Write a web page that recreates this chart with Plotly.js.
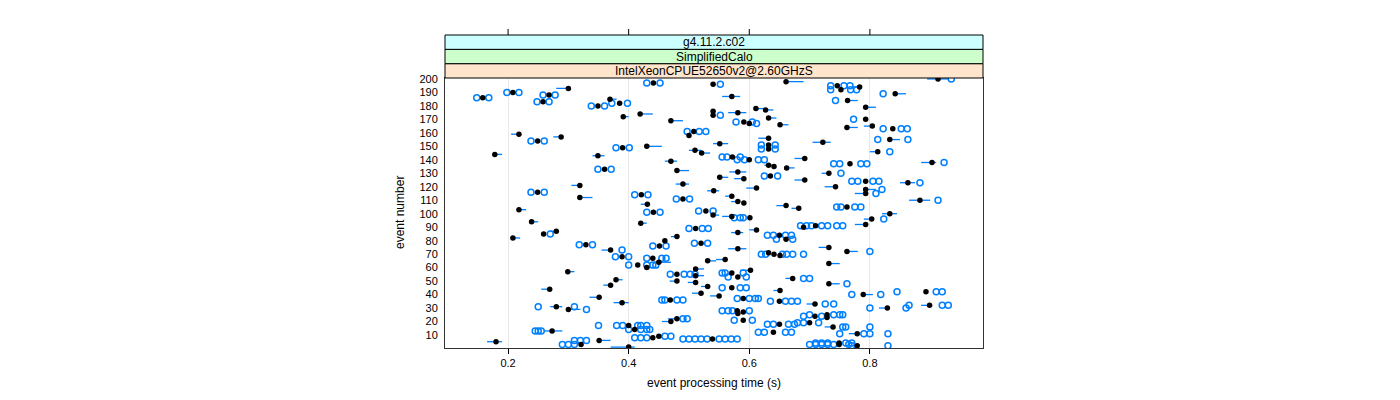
<!DOCTYPE html>
<html>
<head>
<meta charset="utf-8">
<script src="https://cdn.plot.ly/plotly-3.0.1.min.js"></script>
<style>html,body{margin:0;padding:0;background:#fff;}#chart{width:1400px;height:400px;}</style>
</head>
<body>
<div id="chart"></div>
<script>
// ---- data ----
const stripLabels = ["IntelXeonCPUE52650v2@2.60GHzS", "SimplifiedCalo", "g4.11.2.c02"];
const xTicks = [0.2, 0.4, 0.6, 0.8];
const yTicks = [10,20,30,40,50,60,70,80,90,100,110,120,130,140,150,160,170,180,190,200];

const events = [200,198,197,196,195,194,193,192,190,189,188,187,186,185,184,183,182,180,179,178,
177,176,175,174,173,172,171,170,169,168,167,166,165,164,163,161,159,158,157,156,
155,154,153,152,151,150,149,148,147,146,145,144,143,142,141,140,139,138,137,136,
135,134,133,132,131,130,128,127,126,125,124,123,122,121,120,119,118,117,116,115,
114,113,112,111,110,109,108,107,106,105,104,103,102,101,100,99,98,97,96,94,
93,92,91,90,89,88,87,86,85,84,83,82,81,80,78,77,76,75,74,73,
72,71,70,69,68,67,66,65,64,63,62,60,59,58,57,56,55,54,53,52,
51,50,49,48,47,46,45,44,43,42,41,40,39,38,37,36,35,34,33,32,
31,30,29,28,27,26,25,24,23,22,21,20,19,18,17,16,14,13,12,11,
9,8,7,6,5,4,3,3,2,1];

const median = [0.913,0.661,0.441,0.540,0.746,0.783,0.300,0.752,0.208,0.842,0.268,0.571,0.158,0.369,0.763,0.258,0.385,0.349,0.793,0.611,
0.627,0.540,0.581,0.419,0.540,0.391,0.632,0.793,0.470,0.591,0.600,0.651,0.804,0.762,0.838,0.508,0.218,0.500,0.288,0.632,
0.833,0.249,0.722,0.551,0.632,0.430,0.390,0.632,0.510,0.813,0.521,0.178,0.349,0.572,0.692,0.600,0.470,0.903,0.767,0.632,
0.641,0.662,0.360,0.480,0.581,0.732,0.635,0.551,0.591,0.692,0.793,0.863,0.490,0.319,0.743,0.612,0.793,0.541,0.249,0.793,
0.421,0.571,0.319,0.490,0.883,0.581,0.591,0.431,0.661,0.762,0.682,0.218,0.528,0.441,0.833,0.540,0.571,0.601,0.803,0.239,
0.420,0.793,0.710,0.690,0.511,0.612,0.280,0.581,0.259,0.650,0.480,0.208,0.661,0.460,0.520,0.329,0.451,0.732,0.581,0.370,
0.762,0.632,0.641,0.651,0.389,0.440,0.560,0.531,0.450,0.732,0.415,0.430,0.511,0.602,0.299,0.571,0.480,0.511,0.581,0.672,
0.379,0.480,0.511,0.732,0.370,0.531,0.571,0.269,0.651,0.893,0.520,0.789,0.550,0.351,0.590,0.469,0.650,0.389,0.709,0.899,
0.280,0.829,0.300,0.580,0.590,0.581,0.729,0.709,0.729,0.480,0.590,0.470,0.700,0.650,0.400,0.739,0.410,0.273,0.640,0.779,
0.450,0.440,0.539,0.351,0.180,0.749,0.321,0.749,0.779,0.400];

const lineLo = [0.895,0.661,null,null,null,0.770,0.280,null,null,0.842,null,0.555,null,0.369,0.763,null,null,null,0.793,0.611,
0.627,null,0.565,0.419,null,0.391,0.632,null,0.470,null,null,0.651,0.790,0.762,null,null,0.205,null,0.275,0.615,
0.833,null,0.705,0.540,null,0.430,null,null,0.500,0.800,0.521,0.178,0.340,null,0.675,null,0.460,0.885,null,0.625,
null,0.662,null,0.480,0.567,0.720,null,0.551,0.575,0.675,null,0.850,0.478,0.305,0.725,0.595,0.793,0.530,null,0.775,
null,0.560,0.319,null,0.865,0.570,null,0.420,0.645,null,0.670,0.218,null,null,0.820,0.540,0.555,null,0.790,0.239,
0.420,0.775,null,null,null,0.600,0.270,0.570,null,null,0.470,0.208,null,null,null,null,null,0.715,0.565,0.355,
0.762,null,null,null,null,null,0.545,0.531,0.450,0.732,null,0.430,0.511,0.585,0.299,null,null,0.511,null,0.660,
0.379,0.468,0.498,0.732,0.358,0.520,null,0.255,0.640,null,0.505,0.789,0.535,0.335,null,null,null,0.375,0.695,0.885,
0.270,0.815,0.300,null,null,null,null,null,null,0.465,null,0.455,null,null,null,0.725,null,0.260,null,0.765,
null,null,null,0.350,0.165,null,null,null,null,0.370];

const lineHi = [0.930,0.690,null,null,null,0.783,0.300,null,null,0.860,null,0.585,null,0.380,0.780,null,null,null,0.810,0.625,
0.640,null,0.595,0.440,null,0.400,0.645,null,0.490,null,null,0.665,0.804,0.780,null,null,0.218,null,0.288,0.632,
0.850,null,0.735,0.565,null,0.455,null,null,0.520,0.813,0.535,0.190,0.360,null,0.692,null,0.480,0.910,null,0.640,
null,0.675,null,0.500,0.595,0.732,null,0.565,0.591,0.692,null,0.875,0.500,0.319,0.743,0.612,0.810,0.550,null,0.793,
null,0.571,0.340,null,0.900,0.581,null,0.431,0.661,null,0.682,0.230,null,null,0.845,0.550,0.571,null,0.803,0.250,
0.430,0.793,null,null,null,0.612,0.280,0.590,null,null,0.480,0.220,null,null,null,null,null,0.732,0.595,0.370,
0.780,null,null,null,null,null,0.560,0.545,0.470,0.750,null,0.450,0.525,0.602,0.310,null,null,0.525,null,0.672,
0.390,0.480,0.511,0.750,0.370,0.531,null,0.269,0.651,null,0.520,0.805,0.550,0.351,null,null,null,0.400,0.709,0.899,
0.290,0.829,0.320,null,null,null,null,null,null,0.480,null,0.470,null,null,null,0.739,null,0.290,null,0.779,
null,null,null,0.370,0.190,null,null,null,null,0.410];

const replicates = [[0.935],[],[0.43,0.452],[0.552],[0.735,0.757,0.767],[],[],[0.735,0.768,0.778],[0.198,0.218],[0.822],
[0.258,0.278],[],[0.148,0.168],[],[0.743],[0.248,0.268],[0.372,0.398],[0.338,0.36],[],[],
[],[],[],[],[0.552],[],[],[0.773],[],[0.578,0.605],
[0.612],[],[],[],[0.822,0.852,0.862],[0.497,0.517,0.528],[],[],[],[],
[0.813,0.863],[0.238,0.26],[],[],[0.62,0.643],[],[0.379,0.401],[0.62,0.643],[],[0.833],
[],[],[],[0.555,0.563,0.585],[],[0.58,0.592,0.615,0.625],[],[0.923],[0.74,0.75,0.785,0.795],[],
[],[],[0.349,0.371],[],[],[0.752],[0.625,0.647],[],[],[],
[0.77,0.78,0.805,0.815],[0.883],[],[],[],[],[0.82],[],[0.238,0.26],[0.81],
[0.41,0.432],[],[],[0.479,0.501],[0.913],[],[],[],[],[0.745,0.752,0.775,0.785],
[],[],[0.516,0.54],[0.43,0.452],[],[],[],[0.575,0.585,0.59],[0.823],[],
[],[],[0.685,0.695,0.703,0.72,0.73,0.745,0.755],[],[0.5,0.522,0.532],[],[],[],[0.27],[0.63,0.64,0.66,0.67],
[],[],[0.645,0.672],[],[0.509,0.531],[0.318,0.34],[0.44,0.462],[],[],[0.389],
[0.8],[],[0.62,0.627,0.655,0.662,0.672,0.69],[],[0.378,0.4],[0.43,0.455,0.462],[],[],[],[],
[0.4,0.43,0.44,0.445],[],[],[],[],[0.555,0.56,0.59],[0.469,0.492,0.502,0.51],[],[0.565,0.595],[0.69,0.70],
[],[],[],[0.762],[],[],[0.555,0.585,0.595],[],[],[0.845,0.91,0.92],
[],[0.77,0.818],[],[],[0.58,0.6,0.61,0.615],[0.455,0.46,0.48,0.49],[0.635,0.66,0.67,0.68],[],[0.726,0.74],[0.865,0.92,0.93],
[0.25,0.31],[0.8,0.86],[0.33],[0.555,0.565,0.572,0.6],[],[],[0.7,0.74,0.75,0.755],[0.69,0.72],[],[0.49,0.497],
[0.575,0.605],[],[0.68,0.69,0.715],[0.63,0.64,0.665,0.675],[0.35,0.38,0.39,0.415,0.42,0.43],[0.755,0.76,0.8],[0.4,0.42,0.43,0.435],[0.245,0.25,0.255],[0.615,0.625,0.66,0.67],[0.75,0.79,0.8,0.83],
[0.46,0.47],[0.41,0.42,0.43],[0.49,0.5,0.51,0.52,0.53,0.55,0.56,0.57,0.58],[0.31,0.32,0.33],[],[0.71,0.72,0.73,0.76,0.77],[0.29,0.3,0.31],[0.7,0.71,0.72,0.73,0.74,0.765],[0.77,0.83],[]];

// ---- build traces ----
const segX = [], segY = [];
events.forEach((e, i) => {
  if (lineLo[i] !== null && lineHi[i] !== null) {
    segX.push(lineLo[i], lineHi[i], null);
    segY.push(e, e, null);
  }
});
const cX = [], cY = [];
events.forEach((e, i) => {
  (replicates[i] || []).forEach(t => { cX.push(t); cY.push(e); });
});

const blue = '#0080ff';
const traces = [
  {x: segX, y: segY, type: 'scatter', mode: 'lines', line: {color: blue, width: 1.3}, hoverinfo: 'skip', showlegend: false},
  {x: cX, y: cY, type: 'scatter', mode: 'markers',
   marker: {symbol: 'circle-open', size: 6, color: blue, line: {width: 1.5, color: blue}}, showlegend: false},
  {x: median, y: events, type: 'scatter', mode: 'markers',
   marker: {symbol: 'circle', size: 5.5, color: '#000000'}, showlegend: false}
];

// ---- strips and decorations ----
const stripColors = ['#ffe5cc', '#ccffcc', '#ccffff'];
const plotH = 270;
const stripH = 14.33 / plotH;
const shapes = [];
const annotations = [];
stripLabels.forEach((lab, i) => {
  const y0 = 1 + i * stripH, y1 = 1 + (i + 1) * stripH;
  shapes.push({type: 'rect', xref: 'paper', yref: 'paper', x0: 0, x1: 1, y0: y0, y1: y1,
    fillcolor: stripColors[i], line: {color: '#000', width: 1}, layer: 'above'});
  annotations.push({xref: 'paper', yref: 'paper', x: 0.5, y: (y0 + y1) / 2, text: lab, showarrow: false,
    font: {family: 'Liberation Sans, Arial, sans-serif', size: 12, color: '#000'}, xanchor: 'center', yanchor: 'middle'});
});
const topY = 1 + 3 * stripH;
xTicks.forEach(t => {
  shapes.push({type: 'line', xref: 'x', yref: 'paper', x0: t, x1: t, y0: topY, y1: topY + 6 / plotH,
    line: {color: '#000', width: 1}});
});
annotations.push({xref: 'paper', yref: 'paper', x: 0.5, y: -35 / plotH, text: 'event processing time (s)',
  showarrow: false, font: {family: 'Liberation Sans, Arial, sans-serif', size: 12, color: '#000'}, yanchor: 'middle'});
annotations.push({xref: 'paper', yref: 'paper', x: -45 / 538, y: 0.5, text: 'event number', textangle: -90,
  showarrow: false, font: {family: 'Liberation Sans, Arial, sans-serif', size: 12, color: '#000'}, xanchor: 'center', yanchor: 'middle'});

const layout = {
  width: 1400, height: 400,
  margin: {l: 445, r: 417, t: 78, b: 52, pad: 0},
  paper_bgcolor: '#fff', plot_bgcolor: '#fff',
  font: {family: 'Liberation Sans, Arial, sans-serif', size: 11, color: '#000'},
  xaxis: {range: [0.0954, 0.9876], tickvals: xTicks, ticktext: xTicks.map(v => v.toFixed(1)),
    ticks: 'outside', ticklen: 5, tickcolor: '#000', showgrid: true, gridcolor: '#e8e8e8', gridwidth: 1,
    zeroline: false, showline: true, linecolor: '#333', linewidth: 1, mirror: true,
    tickfont: {size: 11}},
  yaxis: {range: [0.35, 200.7], tickvals: yTicks, ticktext: yTicks.map(String),
    ticks: '', showgrid: false, zeroline: false, showline: true, linecolor: '#333', linewidth: 1, mirror: true,
    ticklabelstandoff: 4, tickfont: {size: 11}},
  shapes: shapes,
  annotations: annotations,
  showlegend: false,
  hovermode: false
};

Plotly.newPlot('chart', traces, layout, {staticPlot: true, displayModeBar: false});
</script>
</body>
</html>
